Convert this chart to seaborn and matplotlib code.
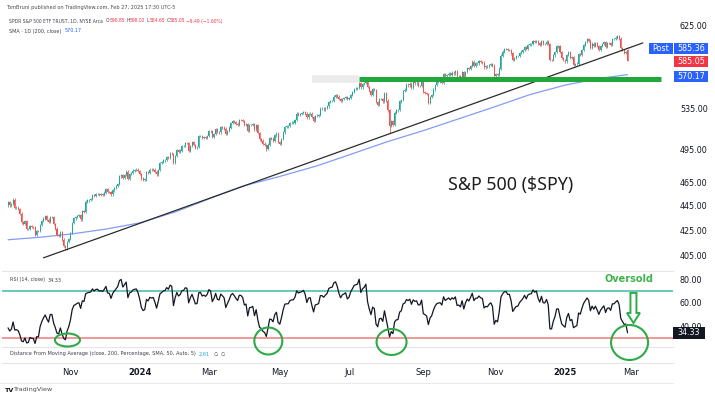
import numpy as np
import pandas as pd
import matplotlib
matplotlib.use("Agg")
import matplotlib.pyplot as plt
import matplotlib.transforms as mtransforms
from matplotlib.patches import Ellipse, Rectangle, Polygon
from matplotlib.ticker import NullLocator, NullFormatter
from matplotlib.font_manager import FontProperties
import seaborn as sns

sns.set_style("white")
plt.rcParams["font.family"] = ["DejaVu Sans"]

# ---------------- data ----------------
nyse_holidays = ["2023-11-23", "2023-12-25", "2024-01-01", "2024-01-15", "2024-02-19",
                 "2024-03-29", "2024-05-27", "2024-06-19", "2024-07-04", "2024-09-02",
                 "2024-11-28", "2024-12-25", "2025-01-01", "2025-01-09", "2025-01-20",
                 "2025-02-17"]
first_date = "2023-09-11"

# closes before the visible window (only used to warm up the RSI)
warmup_closes = [456.5, 450.1, 448.8, 446.8, 450.7, 448.75, 445.75, 445.9, 445.65, 448.1,
                 442.9, 439.6, 436.3, 436.5, 439.3, 438.2, 443.0, 436.9, 440.0, 442.8,
                 449.2, 451.0, 450.4, 451.2, 449.2, 446.2, 444.85, 445.5]

closes = [
    # Sep 2023
    448.4, 445.5, 446.5, 450.4, 443.4, 443.6, 442.7, 438.6, 431.4, 430.4, 432.2, 425.9, 426.1, 428.5, 427.5,
    # Oct 2023
    427.3, 421.6, 424.7, 424.5, 429.5, 432.3, 434.5, 436.3, 433.7, 431.5, 436.0, 436.0, 430.2, 426.4, 421.2,
    420.5, 423.6, 417.6, 412.6, 410.7, 415.6, 418.2,
    # Nov 2023
    422.7, 430.8, 434.7, 435.7, 436.9, 437.3, 433.8, 440.6, 440.2, 448.7, 449.7, 450.2, 450.8, 454.3, 453.3,
    455.0, 455.3, 454.5, 454.9, 454.6, 456.4,
    # Dec 2023
    459.1, 456.7, 456.6, 454.8, 458.2, 460.2, 462.0, 464.1, 470.5, 472.0, 469.3, 472.0, 474.8, 468.3, 472.7,
    473.6, 475.7, 476.5, 476.7, 475.3,
    # Jan 2024
    472.7, 468.8, 467.3, 467.9, 474.6, 473.9, 476.6, 476.3, 476.7, 474.9, 472.3, 476.5, 482.4, 483.5, 484.9,
    485.4, 488.0, 487.4, 491.3, 490.9, 482.9,
    # Feb 2024
    489.2, 494.4, 492.6, 494.0, 498.1, 498.3, 501.2, 501.0, 494.1, 498.6, 502.0, 499.5, 496.8, 497.2, 507.5,
    507.9, 506.0, 506.9, 506.3, 508.1,
    # Mar 2024
    512.9, 512.3, 507.2, 509.8, 514.8, 511.7, 511.3, 516.8, 516.0, 515.0, 509.8, 512.9, 516.0, 520.5, 522.2,
    521.2, 519.8, 518.8, 523.2, 523.1,
    # Apr 2024
    522.2, 518.8, 519.4, 513.1, 518.4, 518.7, 519.3, 514.1, 518.0, 510.9, 504.5, 503.5, 500.6, 499.5, 495.2,
    499.7, 505.7, 505.4, 503.5, 508.3, 510.1, 502.0,
    # May 2024
    500.4, 505.0, 511.3, 516.8, 517.1, 517.2, 520.2, 520.8, 520.9, 523.3, 529.8, 528.7, 529.5, 530.1, 531.4,
    529.8, 526.0, 529.4, 529.8, 526.1, 522.6, 527.4,
    # Jun 2024
    527.8, 528.4, 534.7, 534.7, 534.0, 535.7, 537.0, 541.4, 542.5, 542.8, 547.1, 548.5, 547.0, 544.5, 542.7,
    544.8, 545.5, 546.4, 544.2,
    # Jul 2024
    545.3, 549.0, 551.5, 554.6, 555.3, 555.8, 561.3, 556.5, 560.0, 561.5, 564.9, 556.9, 552.7, 549.0, 554.7,
    553.8, 541.2, 538.4, 544.4, 544.8, 542.0, 550.8,
    # Aug 2024
    543.0, 532.9, 517.4, 522.2, 518.7, 530.7, 533.0, 533.3, 542.0, 543.8, 553.1, 554.3, 559.6, 558.7, 560.6,
    556.2, 562.1, 560.8, 561.6, 558.3, 558.4, 563.7,
    # Sep 2024
    552.1, 551.0, 549.6, 540.4, 546.4, 548.8, 554.4, 559.1, 562.0, 562.8, 563.1, 561.4, 571.0, 568.3, 569.7,
    571.3, 570.0, 572.3, 571.5, 573.8,
    # Oct 2024
    568.6, 568.9, 567.8, 573.0, 567.8, 573.2, 577.1, 575.9, 579.6, 584.3, 579.8, 582.3, 582.4, 584.6, 583.6,
    583.3, 578.0, 579.2, 579.0, 580.8, 581.8, 580.0, 568.6,
    # Nov 2024
    571.0, 569.8, 576.7, 591.0, 595.6, 598.2, 598.8, 597.0, 597.2, 593.4, 585.8, 588.2, 590.3, 590.5, 593.7,
    595.5, 597.5, 600.7, 598.8, 602.6,
    # Dec 2024
    603.6, 603.9, 607.7, 606.7, 607.8, 604.7, 602.8, 607.5, 604.3, 604.2, 606.8, 604.3, 586.3, 586.1, 591.2,
    594.7, 601.3, 601.3, 595.0, 588.2, 586.1,
    # Jan 2025
    584.6, 592.0, 595.4, 588.6, 589.5, 580.5, 581.4, 582.2, 592.8, 591.6, 597.6, 603.1, 606.4, 609.8, 608.0,
    599.4, 604.5, 601.8, 605.0, 601.8,
    # Feb 2025
    597.8, 601.8, 604.2, 606.3, 600.8, 604.9, 605.3, 603.4, 609.7, 609.7, 611.5, 612.9, 610.4, 599.9, 597.2,
    594.2, 594.5, 585.05,
]

notable_lows = {"2023-10-27": 409.2, "2024-04-19": 493.9, "2024-08-05": 510.3,
                "2024-09-06": 539.4, "2025-02-27": 584.65}
notable_opens = {"2025-02-27": 596.85}

sma_dates = ["2023-09-11", "2023-10-06", "2023-11-01", "2023-12-01", "2024-01-02", "2024-02-01",
             "2024-03-01", "2024-04-01", "2024-05-01", "2024-06-03", "2024-07-01", "2024-08-01",
             "2024-09-03", "2024-10-01", "2024-11-01", "2024-12-02", "2025-01-02", "2025-02-03",
             "2025-02-27"]
sma_values = [417.5, 419.5, 422.0, 426.0, 431.0, 440.0, 451.0, 462.0, 470.5, 480.0, 490.0, 502.0,
              513.0, 524.0, 537.0, 549.0, 559.0, 566.0, 570.17]

trend_dates = ["2023-10-10", "2025-03-12"]
trend_prices = [403.5, 605.3]

support_price = 566.0
support_ghost_start = "2024-05-29"
support_start = "2024-07-10"
support_end = "2025-03-27"

oversold_dates = ["2023-10-27", "2024-04-19", "2024-08-05", "2025-02-27"]

price_ticks = [405, 425, 445, 465, 495, 535, 625]
rsi_ticks = [80, 60, 40]
rsi_upper, rsi_lower = 70, 30
tick_months = ["2023-11", "2024-01", "2024-03", "2024-05", "2024-07", "2024-09", "2024-11",
               "2025-01", "2025-03"]
tick_labels = ["Nov", "2024", "Mar", "May", "Jul", "Sep", "Nov", "2025", "Mar"]

header_text = "TomBruni published on TradingView.com, Feb 27, 2025 17:30 UTC-5"
symbol_text = "SPDR S&P 500 ETF TRUST, 1D, NYSE Arca"
ohlc_labels = ["O", "H", "L", "C"]
ohlc_values = ["596.85", "598.02", "584.65", "585.05"]
change_text = "\u22129.49 (\u22121.60%)"
sma_text = "SMA \u00b7 1D (200, close)"
sma_last = "570.17"
rsi_text = "RSI (14, close)"
rsi_last = "34.33"
dma_text = "Distance From Moving Average (close, 200, Percentage, SMA, 50, Auto, 5)"
dma_value = "2.61"
post_price = "585.36"
last_price = "585.05"
title_text = "S&P 500 ($SPY)"
title_date, title_price = "2024-11-14", 463.0

# ---------------- derived ----------------
cal = pd.bdate_range(first_date, "2025-05-30", freq="C", holidays=nyse_holidays)
date_idx = {d.strftime("%Y-%m-%d"): i for i, d in enumerate(cal)}
n = len(closes)
idx = np.arange(n)
all_c = np.array(warmup_closes + closes, dtype=float)
c = np.array(closes, dtype=float)
opens = all_c[len(warmup_closes) - 1:-1].copy()
for d, v in notable_opens.items():
    opens[date_idx[d]] = v
s = pd.Series(all_c)
delta = s.diff()
ag = delta.clip(lower=0).ewm(alpha=1 / 14, adjust=False).mean()
al = (-delta.clip(upper=0)).ewm(alpha=1 / 14, adjust=False).mean()
rsi = (100 - 100 / (1 + ag / al)).to_numpy()[len(warmup_closes):]
df = pd.DataFrame({"idx": idx, "open": opens, "close": c, "rsi": rsi})
sma_df = pd.DataFrame({"idx": [date_idx[d] for d in sma_dates], "sma": sma_values})

# ---------------- layout ----------------
W_PX, H_PX = 715, 399
UP, DN = "#26a69a", "#ef5350"
DARK = "#131722"
GREEN = "#2eaa48"
BLUE = "#2962ff"
RED = "#f23645"
SEP = "#e3e5ea"

fig = plt.figure(figsize=(W_PX / 100, H_PX / 100), dpi=100)
fig.patch.set_facecolor("white")


def ax_rect(x0, y0, x1, y1):
    return [x0 / W_PX, 1 - y1 / H_PX, (x1 - x0) / W_PX, (y1 - y0) / H_PX]


PANE_L, PANE_R = 2, 673
ax_main = fig.add_axes(ax_rect(PANE_L, 13, PANE_R, 271))
ax_rsi = fig.add_axes(ax_rect(PANE_L, 272, PANE_R, 347), sharex=ax_main)
ax_dma = fig.add_axes(ax_rect(PANE_L, 348, PANE_R, 363), sharex=ax_main)

px_per_bar, x_off = 1.688, 8.04
xlim = ((PANE_L - x_off) / px_per_bar, (PANE_R - x_off) / px_per_bar)

# ---- main pane ----
ax_main.set_yscale("log")
body_lo = np.minimum(df["open"], df["close"]).to_numpy()
body_hi = np.maximum(df["open"], df["close"]).to_numpy()
cols = np.where(df["close"] >= df["open"], UP, DN)
wick = 0.0022
hi = body_hi * (1 + wick)
lo = body_lo * (1 - wick)
for d, v in notable_lows.items():
    lo[date_idx[d]] = v
ax_main.vlines(df["idx"], lo, hi, colors=cols, lw=0.55, zorder=3)
ax_main.bar(df["idx"], body_hi - body_lo, bottom=body_lo, width=0.62, color=cols, lw=0, zorder=3)

sns.lineplot(data=sma_df, x="idx", y="sma", ax=ax_main, color="#6d8cf7", lw=0.9, alpha=0.85, zorder=2)
sns.lineplot(x=[date_idx[d] for d in trend_dates], y=trend_prices, ax=ax_main, color="#2b2b2b",
             lw=0.9, zorder=4)
ax_main.hlines(support_price, date_idx[support_ghost_start], date_idx[support_start],
               color="#ebebeb", lw=5.5, zorder=1)
ax_main.hlines(support_price, date_idx[support_start], date_idx[support_end],
               color="#22a83a", lw=3.6, zorder=5)

ax_main.set_xlim(*xlim)
ax_main.set_ylim(393.6, 640.5)
ax_main.yaxis.tick_right()
ax_main.set_yticks(price_ticks)
ax_main.set_yticklabels([f"{v:.2f}" for v in price_ticks])
ax_main.yaxis.set_minor_locator(NullLocator())
ax_main.yaxis.set_minor_formatter(NullFormatter())
ax_main.tick_params(axis="y", length=0, pad=5, labelsize=5.8, labelcolor=DARK)
ax_main.tick_params(axis="x", length=0, labelbottom=False)
ax_main.set_xlabel("")
ax_main.set_ylabel("")

ax_main.text(date_idx[title_date], title_price, title_text, fontsize=12.8, color="#1e1e1e",
             family=["Noto Sans", "DejaVu Sans"], ha="center", va="center")

# ---- RSI pane ----
ax_rsi.axhline(rsi_upper, color="#5fc4b3", lw=1.3, zorder=1)
ax_rsi.axhline(rsi_lower, color="#f07b7b", lw=1.1, zorder=1)
sns.lineplot(data=df, x="idx", y="rsi", ax=ax_rsi, color=DARK, lw=0.9, zorder=3)
ax_rsi.set_ylim(22.13, 85.96)
ax_rsi.yaxis.tick_right()
ax_rsi.set_yticks(rsi_ticks)
ax_rsi.set_yticklabels([f"{v:.2f}" for v in rsi_ticks])
ax_rsi.tick_params(axis="y", length=0, pad=5, labelsize=5.8, labelcolor=DARK)
ax_rsi.tick_params(axis="x", length=0, labelbottom=False)
ax_rsi.set_xlabel("")
ax_rsi.set_ylabel("")

# ---- DMA pane (legend only) + time axis ----
ax_dma.set_yticks([])
month_pos = []
for m in tick_months:
    month_pos.append(next(i for i, d in enumerate(cal) if d.strftime("%Y-%m") == m))
ax_dma.set_xticks(month_pos)
ax_dma.set_xticklabels(tick_labels)
ax_dma.tick_params(axis="x", length=0, pad=3.5, labelsize=6, labelcolor=DARK)
for lab in ax_dma.get_xticklabels():
    if lab.get_text().isdigit():
        lab.set_fontweight("bold")
ax_dma.set_xlim(*xlim)

for a in (ax_main, ax_rsi, ax_dma):
    for sp in ("top", "left", "right"):
        a.spines[sp].set_visible(False)
    a.spines["bottom"].set_color(SEP)
    a.spines["bottom"].set_linewidth(0.8)
    a.set_facecolor("none")
fig.add_artist(plt.Line2D([0, PANE_R / W_PX], [1 - 383 / H_PX] * 2, color=SEP, lw=0.6))

# ---- oversold annotations ----
bar_px = px_per_bar
rsi_px = (85.96 - 22.13) / 75.0
ell_w_px = [25, 28, 30, 37]
ell_h_px = [13, 27, 26, 35]
ell_cy_px = [340, 341, 342, 342.5]
for d, wpx, hpx, cy in zip(oversold_dates, ell_w_px, ell_h_px, ell_cy_px):
    cx = date_idx[d] + 1.2
    cy_val = 80 - (cy - 279) * rsi_px
    ax_rsi.add_patch(Ellipse((cx, cy_val), wpx / bar_px, hpx * rsi_px, fill=False,
                             ec=GREEN, lw=1.5, clip_on=False, zorder=6))

last_i = n - 1
tx, ty = ax_rsi.transData.transform((last_i + 3.5, 42.6))
arrow = Polygon([(tx - 3, ty + 30), (tx + 3, ty + 30), (tx + 3, ty + 10), (tx + 6.5, ty + 10),
                 (tx, ty), (tx - 6.5, ty + 10), (tx - 3, ty + 10)], closed=True,
                fc="white", ec=GREEN, lw=1.4, transform=mtransforms.IdentityTransform(), zorder=7)
fig.add_artist(arrow)
ax_rsi.text(last_i + 0.8, 80.3, "Oversold", color="#3cb54a", fontsize=7, fontweight="bold",
            ha="center", va="center", clip_on=False)

# ---- price labels on the right scale ----
ident = mtransforms.IdentityTransform()


def price_box(ax, value, text, fc, dy=0.0, x0=674, x1=708, h=11, tc="white"):
    y = ax.transData.transform((0, value))[1] + dy
    fig.add_artist(Rectangle((x0, y - h / 2), x1 - x0, h, fc=fc, ec="none", transform=ident, zorder=8))
    fig.text((x0 + x1) / 2 / W_PX, y / H_PX, text, color=tc, fontsize=5.8,
             ha="center", va="center", zorder=9)
    return y


y_post = price_box(ax_main, float(post_price), post_price, BLUE, dy=12.5)
fig.add_artist(Rectangle((649, y_post - 5.5), 24, 11, fc=BLUE, ec="none", transform=ident, zorder=8))
fig.text(661 / W_PX, y_post / H_PX, "Post", color="white", fontsize=5.8, ha="center", va="center", zorder=9)
price_box(ax_main, float(last_price), last_price, RED, dy=-1.0)
price_box(ax_main, float(sma_last), sma_last, BLUE, dy=-1.5)
price_box(ax_rsi, float(rsi_last), rsi_last, DARK, x0=673, x1=705, h=12)

# ---- legend texts ----
renderer = fig.canvas.get_renderer()


def width_px(txt, size, weight="normal"):
    fp = FontProperties(family="DejaVu Sans", size=size, weight=weight)
    w, h, d = renderer.get_text_width_height_descent(txt, fp, ismath=False)
    return w


def draw_runs(x_px, y_px, runs, target_w, base=10.0):
    # runs: (n_spaces_before, text, color)
    def total(size):
        em = size * 100 / 72
        return sum(sp * 0.318 * em + width_px(t, size) for sp, t, _ in runs)
    size = base * target_w / total(base)
    em = size * 100 / 72
    x = x_px
    for sp, t, col in runs:
        x += sp * 0.318 * em
        fig.text(x / W_PX, 1 - y_px / H_PX, t, fontsize=size, color=col, ha="left", va="center")
        x += width_px(t, size)


GREY = "#3c3f47"
draw_runs(6, 7, [(0, header_text, "#4a4a4a")], 167)
line2 = [(0, symbol_text, GREY)]
for k, (lab, val) in enumerate(zip(ohlc_labels, ohlc_values)):
    line2.append((2 if k == 0 else 1, lab, GREY))
    line2.append((0, val, RED))
line2.append((1, change_text, RED))
draw_runs(9, 21, line2, 214)
draw_runs(9, 31, [(0, sma_text, GREY), (2, sma_last, BLUE)], 73)
draw_runs(10, 280, [(0, rsi_text, GREY), (2, rsi_last, GREY)], 52)
draw_runs(10, 354, [(0, dma_text, GREY), (2, dma_value, "#1fa9d6"), (2, "\u2205", GREY),
                    (2, "\u2205", GREY)], 213)
fig.text(5 / W_PX, 1 - 390 / H_PX, "TV", fontsize=4.6, fontweight="bold", color=DARK, va="center")
fig.text(13 / W_PX, 1 - 390 / H_PX, "TradingView", fontsize=4.6, color="#4a4a4a", va="center")

fig.savefig("out.png", dpi=100, facecolor="white")
